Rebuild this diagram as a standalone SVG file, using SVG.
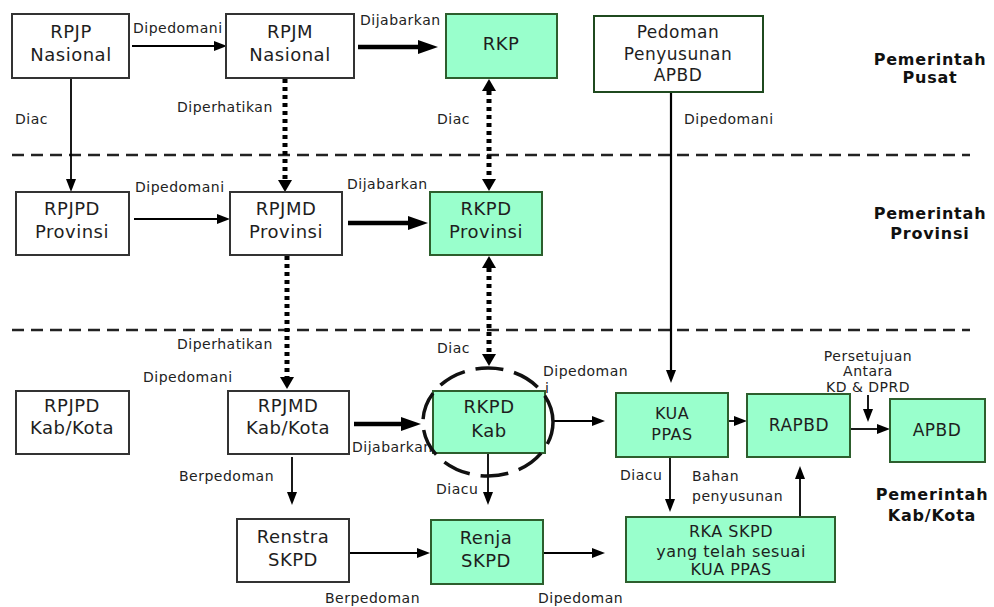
<svg xmlns="http://www.w3.org/2000/svg" width="994" height="607" viewBox="0 0 994 607">
<style>
.box{fill:#fff;stroke:#333;stroke-width:2}
.grn{fill:#99ffcc;stroke:#2d5e2d;stroke-width:2}
.t{font-family:'DejaVu Sans','Liberation Sans',sans-serif;font-size:18px;letter-spacing:0.5px;fill:#1e1e1e;text-anchor:middle}
.s16{font-size:16px}
.s17{font-size:17px}
.lbl{font-family:'DejaVu Sans','Liberation Sans',sans-serif;font-size:14px;letter-spacing:0.5px;fill:#222}
.mid{text-anchor:middle}
.hd{font-family:'DejaVu Sans','Liberation Sans',sans-serif;font-size:16px;font-weight:bold;letter-spacing:0.8px;fill:#111;text-anchor:middle}
.ln{stroke:#000;stroke-width:1.8;fill:none}
.thick{stroke-width:4.5}
.dot{stroke-width:5;stroke-dasharray:4 4}
.sep{stroke:#222;stroke-width:2.5;stroke-dasharray:12 7;fill:none}
.ring{fill:none;stroke:#111;stroke-width:3.5;stroke-dasharray:28 11;stroke-dashoffset:5}
</style>
<defs>
<marker id="ah" markerUnits="userSpaceOnUse" markerWidth="13" markerHeight="10" refX="0" refY="5" orient="auto-start-reverse"><path d="M0,0 L13,5 L0,10 z" fill="#000"/></marker>
<marker id="ahT" markerUnits="userSpaceOnUse" markerWidth="20" markerHeight="14" refX="0" refY="7" orient="auto-start-reverse"><path d="M0,0 L20,7 L0,14 z" fill="#000"/></marker>
<marker id="ahD" markerUnits="userSpaceOnUse" markerWidth="12" markerHeight="14" refX="0" refY="7" orient="auto-start-reverse"><path d="M0,0 L12,7 L0,14 z" fill="#000"/></marker>
</defs>
<rect width="994" height="607" fill="#fff"/>
<g id="separators">
<line class="sep" x1="12" y1="155" x2="970" y2="155"/>
<line class="sep" x1="12" y1="330" x2="970" y2="330"/>
</g>
<g id="connectors">
<path class="ln" d="M132,46 H214" marker-end="url(#ah)"/>
<path class="ln thick" d="M358,47 H418" marker-end="url(#ahT)"/>
<path class="ln" d="M71,78 V179" marker-end="url(#ah)"/>
<path class="ln dot" d="M285,79 V180" marker-end="url(#ahD)"/>
<path class="ln dot" d="M489,91 V179" marker-start="url(#ahD)" marker-end="url(#ahD)"/>
<path class="ln" d="M134,219 H217" marker-end="url(#ah)"/>
<path class="ln thick" d="M348,223 H408" marker-end="url(#ahT)"/>
<path class="ln dot" d="M287,256 V377" marker-end="url(#ahD)"/>
<path class="ln dot" d="M489,268 V354" marker-start="url(#ahD)" marker-end="url(#ahD)"/>
<path class="ln" style="stroke-width:2.2" d="M671,92 V370" marker-end="url(#ah)"/>
<path class="ln thick" d="M354,424 H401" marker-end="url(#ahT)"/>
<path class="ln" d="M292,457 V492" marker-end="url(#ah)"/>
<path class="ln" d="M488,454 V492" marker-end="url(#ah)"/>
<path class="ln" d="M552,421 H592" marker-end="url(#ah)"/>
<path class="ln" d="M728,421 H734" marker-end="url(#ah)"/>
<path class="ln" d="M850,429 H877" marker-end="url(#ah)"/>
<path class="ln" d="M868,395 V409" marker-end="url(#ah)"/>
<path class="ln" d="M670,457 V499" marker-end="url(#ah)"/>
<path class="ln" d="M800,517 V479" marker-end="url(#ah)"/>
<path class="ln" d="M349,553 H417" marker-end="url(#ah)"/>
<path class="ln" d="M543,553 H592" marker-end="url(#ah)"/>
<g id="connector-labels">
<text class="lbl" x="133" y="33">Dipedomani</text>
<text class="lbl" x="360" y="25">Dijabarkan</text>
<text class="lbl" x="15" y="124">Diac</text>
<text class="lbl" x="177" y="112">Diperhatikan</text>
<text class="lbl" x="437" y="124">Diac</text>
<text class="lbl" x="684" y="124">Dipedomani</text>
<text class="lbl" x="135" y="192">Dipedomani</text>
<text class="lbl" x="347" y="189">Dijabarkan</text>
<text class="lbl" x="177" y="349">Diperhatikan</text>
<text class="lbl" x="437" y="353">Diac</text>
<text class="lbl" x="143" y="382">Dipedomani</text>
<text class="lbl" x="543" y="376">Dipedoman</text>
<text class="lbl" x="545" y="393">i</text>
<text class="lbl mid" x="868" y="361">Persetujuan</text>
<text class="lbl mid" x="868" y="376">Antara</text>
<text class="lbl mid" x="868" y="392">KD &amp; DPRD</text>
<text class="lbl" x="352" y="452">Dijabarkan</text>
<text class="lbl" x="179" y="481">Berpedoman</text>
<text class="lbl" x="436" y="494">Diacu</text>
<text class="lbl" x="620" y="480">Diacu</text>
<text class="lbl" x="692" y="481">Bahan</text>
<text class="lbl" x="692" y="501">penyusunan</text>
<text class="lbl" x="325" y="603">Berpedoman</text>
<text class="lbl" x="538" y="603">Dipedoman</text>
</g>
</g>
<g id="rpjp-nasional"><rect class="box" x="12" y="14" width="117" height="64"/><text class="t" x="71" y="38">RPJP</text><text class="t" x="71" y="61">Nasional</text></g>
<g id="rpjm-nasional"><rect class="box" x="226" y="14" width="128" height="64"/><text class="t" x="290" y="38">RPJM</text><text class="t" x="290" y="61">Nasional</text></g>
<g id="rkp"><rect class="grn" x="446" y="14" width="111" height="64"/><text class="t" x="501" y="50">RKP</text></g>
<g id="pedoman-apbd"><rect x="594" y="16" width="169" height="76" fill="#fff" stroke="#1f4a1f" stroke-width="2"/><text class="t s17" x="678" y="38">Pedoman</text><text class="t s17" x="678" y="60">Penyusunan</text><text class="t s17" x="678" y="81">APBD</text></g>
<g id="label-pusat"><text class="hd" x="930" y="65">Pemerintah</text><text class="hd" x="930" y="83">Pusat</text></g>
<g id="rpjpd-provinsi"><rect class="box" x="16" y="192" width="113" height="63"/><text class="t" x="72" y="215">RPJPD</text><text class="t" x="72" y="238">Provinsi</text></g>
<g id="rpjmd-provinsi"><rect class="box" x="230" y="192" width="112" height="63"/><text class="t" x="286" y="215">RPJMD</text><text class="t" x="286" y="238">Provinsi</text></g>
<g id="rkpd-provinsi"><rect class="grn" x="430" y="192" width="112" height="63"/><text class="t" x="486" y="215">RKPD</text><text class="t" x="486" y="238">Provinsi</text></g>
<g id="label-provinsi"><text class="hd" x="930" y="219">Pemerintah</text><text class="hd" x="930" y="239">Provinsi</text></g>
<g id="rpjpd-kabkota"><rect class="box" x="16" y="391" width="113" height="63"/><text class="t" x="72" y="412">RPJPD</text><text class="t" x="72" y="434">Kab/Kota</text></g>
<g id="rpjmd-kabkota"><rect class="box" x="228" y="391" width="121" height="63"/><text class="t" x="288" y="412">RPJMD</text><text class="t" x="288" y="434">Kab/Kota</text></g>
<g id="rkpd-kab"><rect class="grn" x="433" y="391" width="112" height="62"/><text class="t" x="489" y="413">RKPD</text><text class="t" x="489" y="437">Kab</text><ellipse class="ring" cx="488" cy="422" rx="65" ry="54"/></g>
<g id="kua-ppas"><rect class="grn" x="616" y="393" width="112" height="64"/><text class="t s16" x="672" y="419">KUA</text><text class="t s16" x="672" y="440">PPAS</text></g>
<g id="rapbd"><rect class="grn" x="747" y="394" width="103" height="63"/><text class="t s17" x="799" y="431">RAPBD</text></g>
<g id="apbd"><rect class="grn" x="890" y="399" width="95" height="63"/><text class="t s17" x="937" y="436">APBD</text></g>
<g id="renstra-skpd"><rect class="box" x="237" y="519" width="112" height="63"/><text class="t" x="293" y="543">Renstra</text><text class="t" x="293" y="566">SKPD</text></g>
<g id="renja-skpd"><rect class="grn" x="431" y="520" width="112" height="64"/><text class="t" x="486" y="544">Renja</text><text class="t" x="486" y="567">SKPD</text></g>
<g id="rka-skpd"><rect class="grn" x="626" y="517" width="209" height="65"/><text class="t s16" x="731" y="537">RKA SKPD</text><text class="t s16" x="731" y="557">yang telah sesuai</text><text class="t s16" x="731" y="575">KUA PPAS</text></g>
<g id="label-kabkota"><text class="hd" x="932" y="500">Pemerintah</text><text class="hd" x="932" y="521">Kab/Kota</text></g>
</svg>
